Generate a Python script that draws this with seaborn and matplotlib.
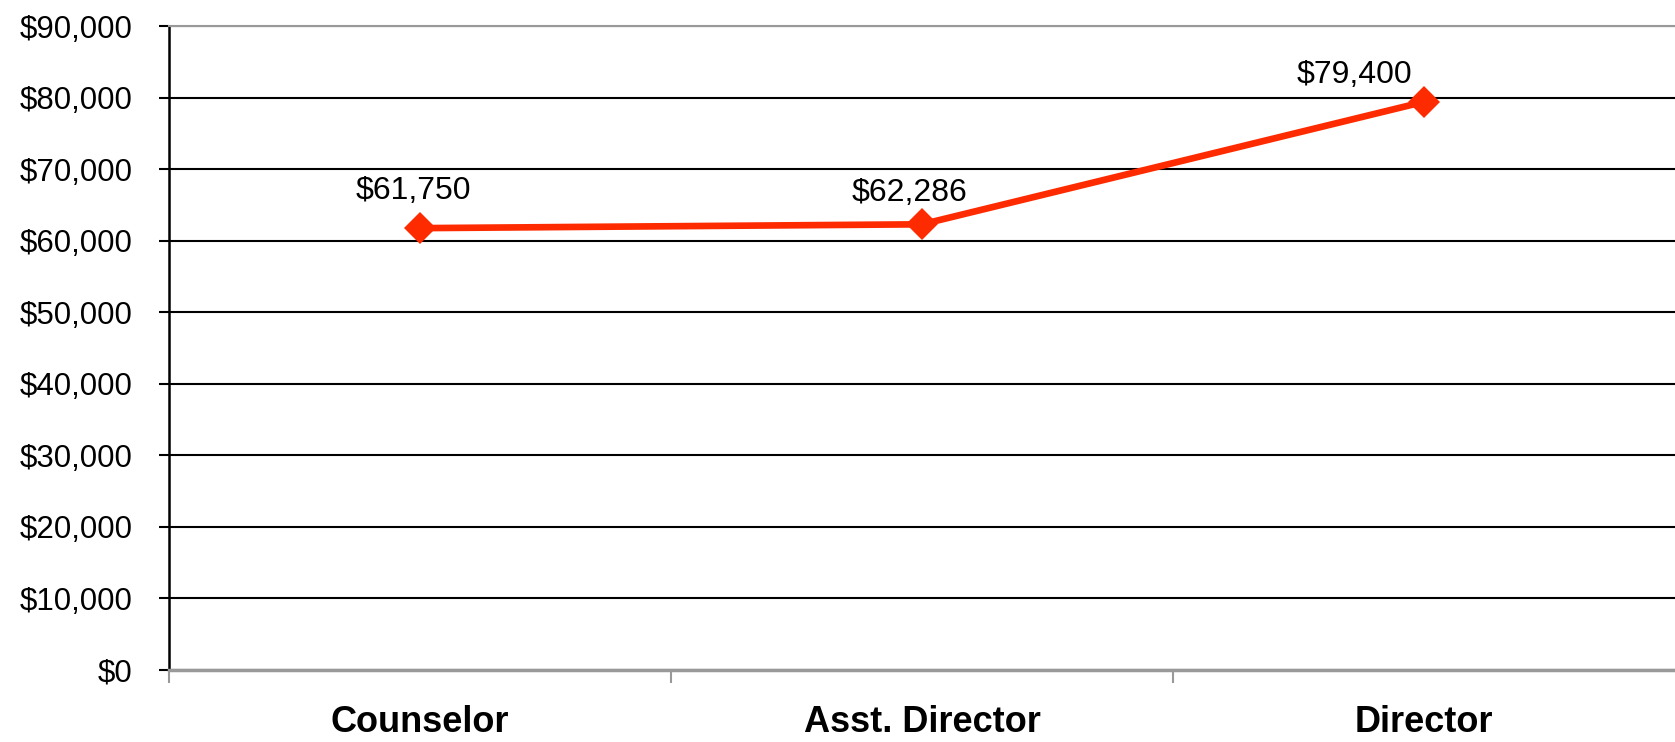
import pandas as pd
import matplotlib.pyplot as plt
import seaborn as sns
from matplotlib.ticker import FuncFormatter, FixedLocator

sns.set_style("white")
plt.rcParams["font.family"] = ["Liberation Sans", "DejaVu Sans"]
plt.rcParams["text.color"] = "black"

positions = ["Counselor", "Asst. Director", "Director"]
salaries = [61750, 62286, 79400]
y_ticks = [0, 10000, 20000, 30000, 40000, 50000, 60000, 70000, 80000, 90000]

df = pd.DataFrame({"Position": positions, "Salary": salaries})

fig = plt.figure(figsize=(16.75, 7.42), dpi=100)
ax = fig.add_axes([169 / 1675, 1 - 670 / 742, 1 - 169 / 1675, (670 - 26) / 742])

sns.lineplot(data=df, x="Position", y="Salary", sort=False, ax=ax,
             color="#ff2b00", linewidth=4.8, marker="D", markersize=16,
             markeredgewidth=0)

ax.set_xlim(-0.5, len(positions) - 0.5)
ax.set_ylim(y_ticks[0], y_ticks[-1])
ax.set_yticks(y_ticks)
ax.yaxis.set_major_formatter(FuncFormatter(lambda v, _: f"${v:,.0f}"))
ax.grid(axis="y", color="black", linewidth=1.5)
ax.set_axisbelow(True)

ax.set_xlabel("")
ax.set_ylabel("")
ax.tick_params(axis="y", left=True, labelsize=22.5, length=7, width=1.5,
               color="black", labelcolor="black", pad=19)
ax.tick_params(axis="x", which="major", bottom=True, labelsize=26, length=0,
               labelcolor="black", pad=25)
for lbl in ax.get_xticklabels():
    lbl.set_fontweight("bold")

# category dividers under the axis
ax.xaxis.set_minor_locator(FixedLocator([-0.5, 0.5, 1.5]))
ax.tick_params(axis="x", which="minor", bottom=True, length=9, width=1.5,
               color="#999999")

ax.spines["right"].set_visible(False)
ax.spines["left"].set_color("black")
ax.spines["left"].set_linewidth(1.8)
ax.spines["bottom"].set_color("#999999")
ax.spines["bottom"].set_linewidth(2.5)
ax.spines["top"].set_color("#999999")
ax.spines["top"].set_linewidth(1.5)

label_offsets = [(-7, 37), (-13, 31), (-70, 27)]
for i, (val, off) in enumerate(zip(salaries, label_offsets)):
    ax.annotate(f"${val:,}", (i, val), xytext=off, textcoords="offset pixels",
                ha="center", va="center", fontsize=23, color="black")

fig.savefig("out.png", dpi=100)
